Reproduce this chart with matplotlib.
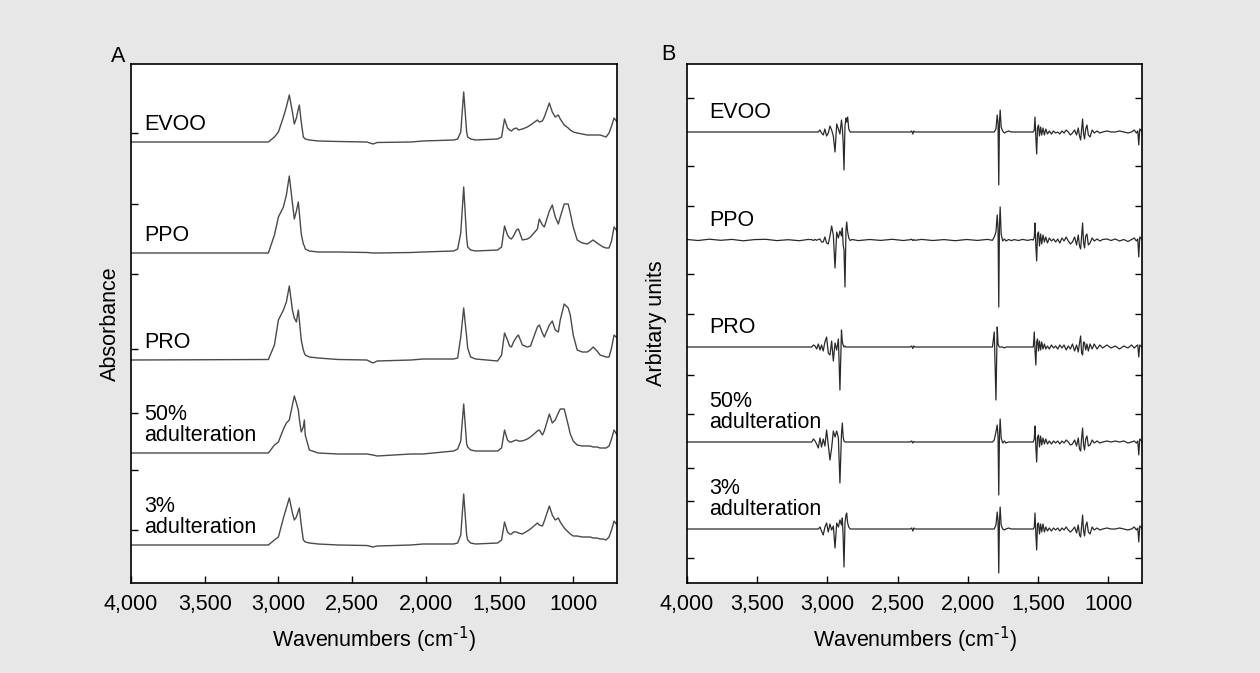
import matplotlib.pyplot as plt

plt.rcParams['font.family'] = ['Liberation Sans Narrow', 'Liberation Sans', 'DejaVu Sans']
plt.rcParams['mathtext.default'] = 'regular'

# ---- panel A: absorbance spectra (heights above each trace's baseline) ----
wn_a = [4000, 3068, 3027, 3000, 2966, 2946, 2926, 2905, 2892, 2878,
        2865, 2858, 2845, 2831, 2824, 2818, 2790, 2730, 2595, 2400,
        2358, 2330, 2100, 2020, 1811, 1784, 1763, 1743, 1723, 1716,
        1696, 1662, 1513, 1486, 1466, 1446, 1432, 1419, 1405, 1385,
        1372, 1345, 1311, 1290, 1243, 1230, 1209, 1196, 1162, 1142,
        1122, 1101, 1088, 1061, 1034, 1020, 1000, 973, 939, 905,
        885, 865, 838, 818, 797, 777, 757, 740, 723, 703]
evoo_a = [0, 0, 5, 10, 25, 35, 47, 30, 18, 24,
          33, 37, 20, 5, 4, 3, 2, 1, 0.5, 0,
          -2, -0.5, 0, 1, 2, 3, 10, 50, 10, 5,
          3, 2, 3, 5, 23, 14, 12, 11, 13, 14,
          12, 13, 15, 17, 22, 20, 21, 25, 39, 30,
          25, 27, 23, 17, 14, 12, 10, 9, 8, 7,
          7, 7, 7, 7, 6, 5, 9, 16, 24, 20]
ppo_a = [0, 0, 18, 36, 46, 58, 77, 50, 34, 42,
         51, 40, 19, 9, 7, 4, 2, 1, 1, 0.5,
         0, 0, 0.5, 1, 2, 4, 20, 66, 15, 6,
         3, 2, 3, 6, 27, 18, 15, 14, 17, 23,
         24, 13, 14, 16, 24, 34, 28, 26, 42, 48,
         36, 29, 36, 49, 49, 40, 26, 13, 10, 9,
         11, 13, 10, 8, 6, 5, 5, 12, 26, 22]
pro_a = [0, 0.5, 15, 40, 50, 58, 74, 50, 42, 38,
         50, 40, 20, 10, 7, 5, 3, 2, 0.5, 0,
         -3, -1, 0, 1, 1, 2, 23, 52, 23, 12,
         3, 1, -1, 5, 27, 20, 14, 13, 18, 23,
         25, 15, 13, 14, 33, 35, 27, 23, 35, 39,
         30, 28, 40, 56, 52, 45, 25, 10, 8, 8,
         10, 13, 9, 5, 4, 3, 3, 12, 25, 22]
adult50_a = [0, 0, 8, 11, 24, 30, 33, 48, 57, 50,
             43, 34, 21, 26, 33, 18, 3, 0, -1, -1,
             -2, -3, -1, -1, 2, 4, 12, 49, 9, 6,
             3, 2, 2, 5, 23, 13, 11, 11, 12, 13,
             12, 12, 14, 16, 22, 23, 18, 22, 39, 30,
             33, 40, 44, 44, 28, 19, 12, 8, 7, 7,
             7, 6, 6, 5, 5, 5, 7, 14, 23, 18]
adult3_a = [0, 0, 5, 8, 27, 37, 47, 32, 25, 28,
            34, 37, 20, 5, 4, 3, 2, 1, 0, -0.5,
            -2, -1, 0, 1, 1, 2, 10, 51, 10, 5,
            2, 1, 2, 5, 23, 13, 11, 11, 13, 13,
            12, 11, 14, 16, 22, 20, 19, 24, 39, 30,
            25, 27, 23, 17, 13, 11, 9, 9, 8, 8,
            8, 7, 7, 6, 6, 5, 8, 15, 24, 20]

# ---- panel B: derivative spectra ----
wn_b = ([4000, 3920, 3840, 3760, 3680, 3600, 3520, 3440, 3360, 3280, 3200, 3140]
        + [3112, 3100, 3088, 3077, 3065, 3053, 3042, 3030, 3018, 3006,
           2994, 2982, 2970, 2958, 2946, 2934, 2922, 2911, 2900, 2894,
           2888, 2882, 2875, 2868, 2863, 2856, 2848, 2838, 2825]
        + [2780, 2700, 2620, 2540, 2460, 2410, 2400, 2392, 2385, 2377,
           2330, 2250, 2170, 2090, 2010, 1930, 1860, 1825]
        + [1812, 1800, 1791, 1785, 1780, 1775, 1770, 1763, 1752, 1740, 1728, 1710, 1690, 1670]
        + [1640, 1610, 1575, 1545]
        + [1534, 1527, 1522, 1516, 1510, 1504, 1497, 1490, 1482, 1474,
           1465, 1455, 1445, 1433, 1420, 1405, 1390, 1375, 1360, 1345,
           1330, 1315, 1300, 1285, 1270, 1255, 1240, 1226, 1214, 1205,
           1197, 1190, 1183, 1176, 1169, 1161, 1152, 1142, 1130, 1115,
           1100, 1080, 1060]
        + [1040, 1010, 980, 950, 920, 890, 860, 835, 815, 800, 790, 783, 776, 768, 760])
evoo_b = ([0] * 12
          + [0, 0, 0, 0, 0, 2, -1, -3, 3, -4, -1, 6, 2, -4, -20,
             8, 3, -2, 12, 4, -10, -38, 6, 14, 10, 15, 3, 0, 0]
          + [0, 0, 0, 0, 0, 0, 1, -2, 1, 0, 0, 0, 0, 0, 0, 0, 0, 0]
          + [0, 3, 17, 8, -53, 10, 22, 5, 1, -1, 0, 1, 0, 0]
          + [0, 0, 0, 0]
          + [0, 2, 15, -5, -22, 4, 7, -4, 5, -3, 4, -3, 3, -2, 1, -2, 1, -1, 0, -2,
             1, -1, 2, 0, -3, -1, 2, -3, 4, -4, -8, 3, 13, -2, -7, 3, 7, -3, -5, 2,
             -1, 1, -1]
          + [0, 1, 0, 0, 1, 0, -1, 0, 2, -1, 1, -13, 3, 2, 0])
ppo_b = ([0.5, -0.5, 0.8, -0.3, 0.6, -0.8, 0.4, 0.7, -0.6, 0.3, -0.7, 0.5]
         + [0.4, -0.5, 0.6, -0.3, 0.5, 1, -2, -2, 3, -3, -4, 4, 14, 5, -28,
            8, 2, 9, 4, 12, -5, -10, -47, 10, 18, 8, 2, -0.5, 0.5]
         + [-0.6, 0.5, -0.4, 0.7, -0.5, 0.3, 0.8, -0.6, 0.4, -0.3,
            0.6, -0.5, 0.4, -0.7, 0.5, -0.4, 0.6, -0.3]
         + [3, 8, 25, 10, -67, 15, 33, 6, -1, 1, -1, 0.5, -0.6, 0.4]
         + [-0.5, 0.6, -0.4, 0.5]
         + [0, 3, 17, -6, -21, 6, 8, -6, 6, -4, 5, -2, 3, -3, 2, -1, 1, -2, 1, -3,
            2, -1, 3, -1, -4, -2, 3, -5, 5, -6, -9, 4, 17, -3, -8, 4, 6, -5, -3, 2,
            -1, 1, -1]
         + [0.5, 1, -0.5, 1, -1, 0.5, -1.5, 0.5, 2, -1, 1, -17, 3, 2, 0])
pro_b = ([0] * 12
         + [0, 2, 1, -2, 3, -3, 2, -4, 5, 10, -6, -8, 6, -14, 4,
            -3, 8, -43, 17, 5, 2, 0, 1, 0, 0, 0, 0, 0, 0]
         + [0, 0, 0, 0, 0, 0, 1, -1.5, 1, 0, 0, 0, 0, 0, 0, 0, 0, 0]
         + [15, -53, 20, 3, 1, 0, 0, 0, 0, -1, 0, 0, 0, 0]
         + [0, 0, 0, 0]
         + [0, 15, -3, -18, 5, 8, -4, 6, -3, 5, -2, 3, -2, 1, -2, 2, -1, 1, -2, 2,
            -1, 2, -3, 1, -2, 3, -4, 2, -5, 4, 11, -6, -8, 5, 4, -3, 3, -4, 3, -2,
            3, -2, 2]
         + [-1, 2, -1, 1, -2, 1, -1, 2, -1, 1, 2, -10, 2, 1, 0])
adult50_b = ([0] * 12
             + [0, 3, 1, -2, -6, 4, -5, 3, -4, 12, -3, -18, -6, 11, 5,
                11, 4, -41, 8, 19, 5, 1, 0, 0, 0, 0, 0, 0, 0]
             + [0, 0, 0, 0, 0, 0, 1, -1, 0.5, 0, 0, 0, 0, 0, 0, 0, 0, 0]
             + [2, 10, 17, 5, -53, 8, 23, 4, -1, 1, -1, 0, 0, 0]
             + [0, 0, 0, 0]
             + [0, 3, 16, -5, -20, 5, 7, -5, 6, -3, 4, -2, 3, -2, 1, -2, 1, -1, 1, -2,
                1, -1, 2, 0, -3, -2, 2, -4, 4, -7, -9, 4, 14, -3, -8, 3, 6, -4, -3, 2,
                -1, 1, -1]
             + [0, 1, 0, 1, 0, 1, -1, 0, 1, -1, 1, -13, 3, 2, 0])
adult3_b = ([0] * 12
            + [0, 0, 0, 0, 0, 2, -2, -6, 2, 6, -3, 5, -1, 3, -19,
               6, 2, 9, 4, 11, -8, -38, 6, 14, 16, 6, 2, 0, 0]
            + [0, 0, 0, 0, 0, 0, 1, -2, 1, 0, 0, 0, 0, 0, 0, 0, 0, 0]
            + [0, 4, 17, 7, -44, 9, 22, 4, 0, -1, 0, 1, 0, 0]
            + [0, 0, 0, 0]
            + [0, 2, 16, -5, -21, 5, 6, -5, 5, -3, 5, -3, 2, -2, 1, -2, 1, -1, 1, -2,
               1, -1, 2, -1, -3, -1, 2, -4, 4, -6, -8, 3, 14, -2, -7, 3, 7, -3, -5, 2,
               -1, 1, -1]
            + [0, 1, 0, 0, 1, 0, -1, 0, 2, -1, 1, -13, 3, 2, 0])

names = ['EVOO', 'PPO', 'PRO', '50%\nadulteration', '3%\nadulteration']
base_a = [441, 330, 223, 130, 38]
base_b = [451, 343, 236, 141, 54]
yticks_a = [450, 379, 309, 234, 170, 113, 53]
yticks_b = [485, 417, 377, 309, 269, 208, 169, 115, 82, 25]
xticks = [4000, 3500, 3000, 2500, 2000, 1500, 1000]
xticklabels = ['4,000', '3,500', '3,000', '2,500', '2,000', '1,500', '1000']

bg = '#e6e7e6'
fig = plt.figure(figsize=(12.6, 6.73), dpi=100, facecolor=bg)
axA = fig.add_axes([131 / 1260, 1 - 583 / 673, 486 / 1260, 519 / 673])
axB = fig.add_axes([687 / 1260, 1 - 583 / 673, 455 / 1260, 519 / 673])

traces_a = [evoo_a, ppo_a, pro_a, adult50_a, adult3_a]
traces_b = [evoo_b, ppo_b, pro_b, adult50_b, adult3_b]

for vals, b, name in zip(traces_a, base_a, names):
    axA.plot(wn_a, [b + v for v in vals], color='#4a4a4a', lw=1.0)
    axA.text(3912, b + 7, name, fontsize=15.5, va='bottom', ha='left', linespacing=1.0)

for vals, b, name in zip(traces_b, base_b, names):
    axB.plot(wn_b, [b + v for v in vals], color='#2a2a2a', lw=0.9)
    axB.text(3843, b + 9, name, fontsize=15.5, va='bottom', ha='left', linespacing=1.0)

for ax, xr, yt, lab, lx in [(axA, 703, yticks_a, 'Absorbance', -0.020),
                            (axB, 760, yticks_b, 'Arbitary units', -0.043)]:
    ax.set_xlim(4000, xr)
    ax.set_ylim(0, 519)
    ax.set_xticks(xticks)
    ax.set_xticklabels(xticklabels, fontsize=15.5)
    ax.set_yticks(yt)
    ax.set_yticklabels([])
    ax.tick_params(axis='x', direction='in', length=5, width=1, pad=8)
    ax.tick_params(axis='y', direction='in', length=5, width=1)
    for s in ax.spines.values():
        s.set_linewidth(1.2)
    ax.set_xlabel(r'Wavenumbers (cm$^{\text{-1}}$)', fontsize=15.5)
    ax.xaxis.set_label_coords(0.5, -0.08)
    ax.set_ylabel(lab, fontsize=15.5)
    ax.yaxis.set_label_coords(lx, 0.5)

axB.tick_params(axis='y', right=True)

fig.text(118 / 1260, 1 - 57 / 673, 'A', fontsize=15.5, ha='center', va='center')
fig.text(668 / 1260, 1 - 55 / 673, 'B', fontsize=15.5, ha='center', va='center')

fig.savefig('out.png', dpi=100, facecolor=bg)
